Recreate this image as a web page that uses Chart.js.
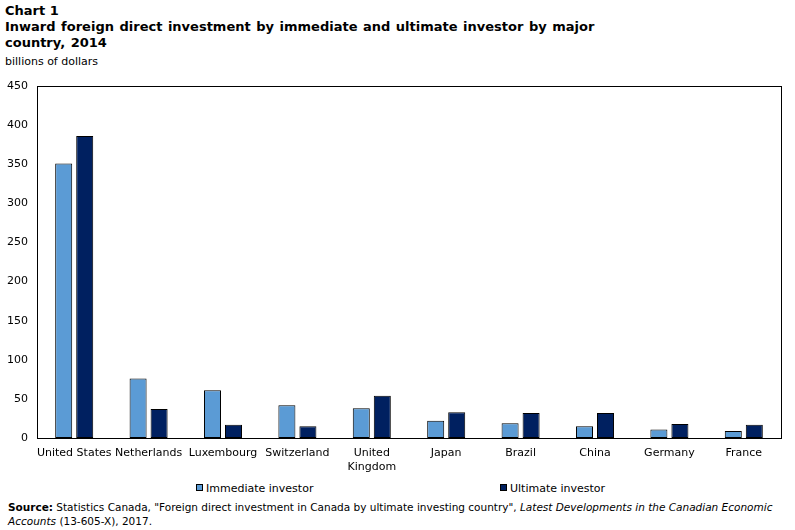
<!DOCTYPE html>
<html>
<head>
<meta charset="utf-8">
<script src="https://cdn.jsdelivr.net/npm/chart.js@4"></script>
<style>
  html, body { margin: 0; padding: 0; background: #fff; }
  #wrap { position: relative; width: 795px; height: 530px; overflow: hidden; font-family: "DejaVu Sans", Verdana, sans-serif; color: #000; }
  #c { position: absolute; left: 0; top: 0; }
  .t { position: absolute; white-space: nowrap; }
  #t1 { left: 5px; top: 3px; font-weight: bold; font-size: 13px; }
  #t2 { left: 5px; top: 19px; font-weight: bold; font-size: 13px; line-height: 16px; word-spacing: 1px; }
  #t3 { left: 5px; top: 55px; font-size: 11px; }
  .lg { position: absolute; top: 482px; font-size: 11px; line-height: 14px; white-space: nowrap; }
  .sw { display: inline-block; width: 5px; height: 5px; border: 1px solid #000; margin-right: 3px; vertical-align: 1px; }
  #src { left: 8px; top: 500px; font-size: 10.5px; line-height: 14px; }
</style>
</head>
<body>
<div id="wrap">
  <div class="t" id="t1">Chart 1</div>
  <div class="t" id="t2">Inward foreign direct investment by immediate and ultimate investor by major<br>country, 2014</div>
  <div class="t" id="t3">billions of dollars</div>
  <canvas id="c" width="795" height="475"></canvas>
  <div id="legend"></div>
  <div class="t" id="src"><b>Source:</b> Statistics Canada, "Foreign direct investment in Canada by ultimate investing country", <i>Latest Developments in the Canadian Economic<br>Accounts</i> (13-605-X), 2017.</div>
</div>
<script>
const categories = ["United States", "Netherlands", "Luxembourg", "Switzerland", ["United", "Kingdom"], "Japan", "Brazil", "China", "Germany", "France"];
const seriesNames = ["Immediate investor", "Ultimate investor"];
const immediateInvestor = [351, 76, 61, 42, 38, 22, 19, 15, 11, 9];
const ultimateInvestor = [386, 37, 17, 15, 54, 33, 32, 32, 18, 17];
const yTicks = [0, 50, 100, 150, 200, 250, 300, 350, 400, 450];
const colors = ["#5B9BD5", "#002060"];

const boxPlugin = {
  id: 'box',
  afterDraw(chart) {
    const a = chart.chartArea, ctx = chart.ctx;
    ctx.save();
    ctx.strokeStyle = '#000';
    ctx.lineWidth = 1;
    ctx.strokeRect(Math.round(a.left) + 0.5, Math.round(a.top) + 0.5, Math.round(a.right - a.left), Math.round(a.bottom - a.top));
    ctx.restore();
  }
};

const font = { family: '"DejaVu Sans", Verdana, sans-serif', size: 11 };

new Chart(document.getElementById('c'), {
  type: 'bar',
  data: {
    labels: categories,
    datasets: [
      { label: seriesNames[0], data: immediateInvestor, backgroundColor: colors[0], borderColor: '#000', borderWidth: 1, borderSkipped: false, categoryPercentage: 0.565, barPercentage: 0.81 },
      { label: seriesNames[1], data: ultimateInvestor, backgroundColor: colors[1], borderColor: '#000', borderWidth: 1, borderSkipped: false, categoryPercentage: 0.565, barPercentage: 0.81 }
    ]
  },
  options: {
    responsive: false,
    animation: false,
    devicePixelRatio: 1,
    layout: { padding: { top: 86, right: 14, left: 0, bottom: 0 } },
    plugins: { legend: { display: false }, tooltip: { enabled: false }, title: { display: false } },
    scales: {
      x: {
        grid: { display: false, drawTicks: false },
        border: { display: false },
        ticks: { color: '#000', font: font, padding: 9, maxRotation: 0, autoSkip: false },
        afterFit(s) { s.height = 37; }
      },
      y: {
        min: 0, max: 450,
        grid: { display: false, drawTicks: false },
        border: { display: false },
        afterBuildTicks(s) { s.ticks = yTicks.map(v => ({ value: v })); },
        ticks: { color: '#000', font: font, padding: 9 },
        afterFit(s) { s.width = 37; }
      }
    }
  },
  plugins: [boxPlugin]
});

const lg = document.getElementById('legend');
const lgLeft = [196, 500];
seriesNames.forEach((n, i) => {
  const d = document.createElement('div');
  d.className = 'lg';
  d.style.left = lgLeft[i] + 'px';
  d.innerHTML = '<span class="sw" style="background:' + colors[i] + '"></span>' + n;
  lg.appendChild(d);
});
</script>
</body>
</html>
